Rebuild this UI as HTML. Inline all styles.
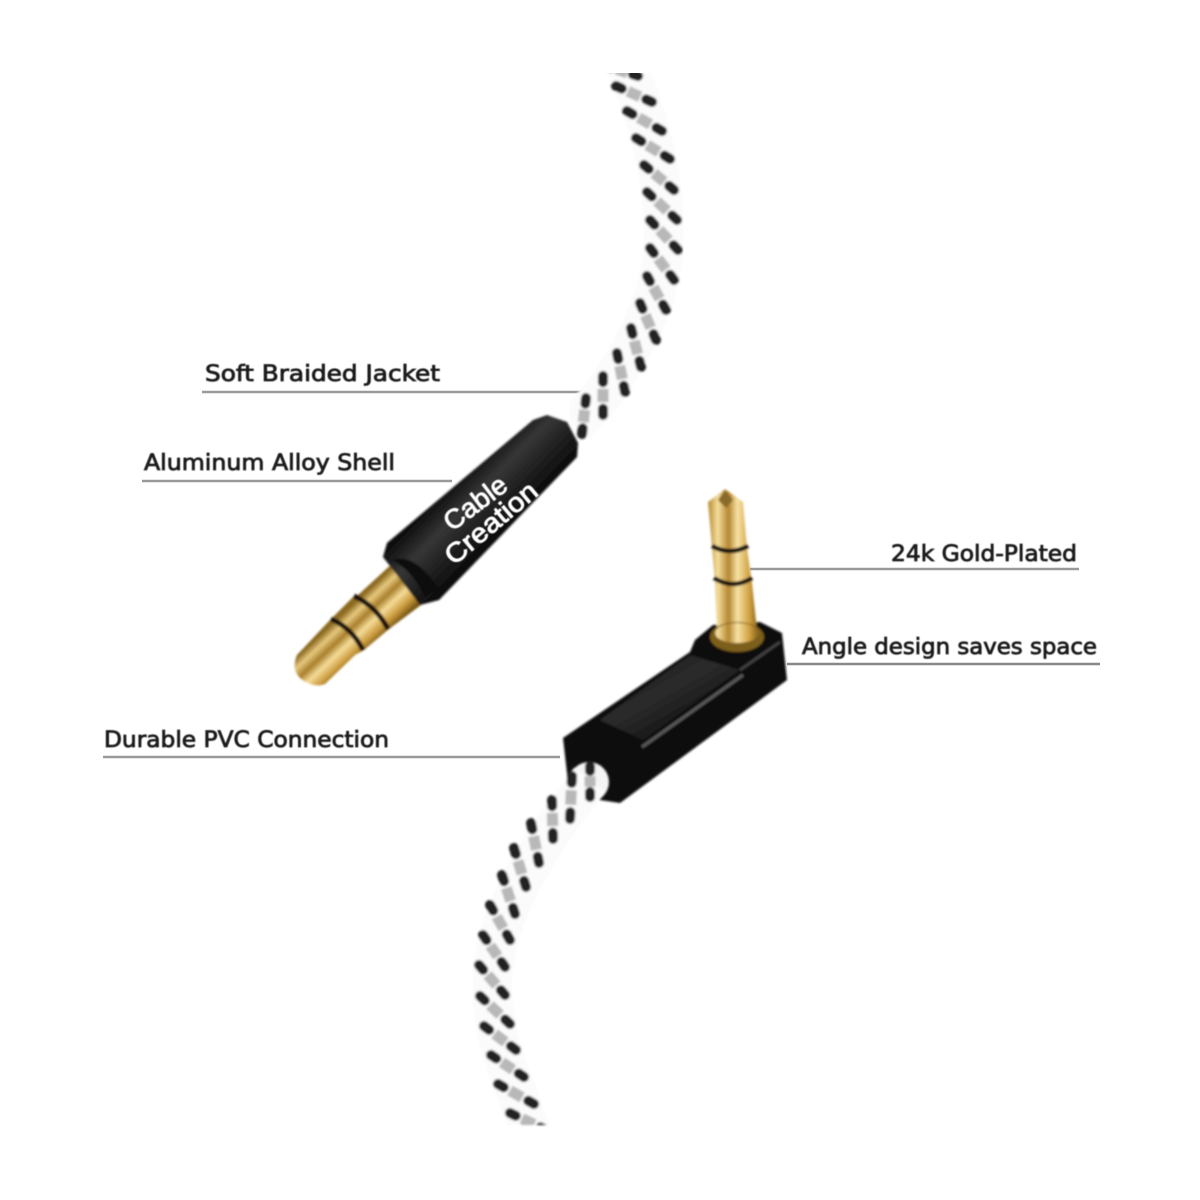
<!DOCTYPE html>
<html><head><meta charset="utf-8"><style>
html,body{margin:0;padding:0;background:#fff}
svg{display:block}
text.l{font-family:"DejaVu Sans","Liberation Sans",sans-serif;font-size:22px;fill:#1c1c1c;stroke:#1c1c1c;stroke-width:.8}
text.b{font-family:"Liberation Sans",sans-serif;font-size:27px;fill:#fff;stroke:#fff;stroke-width:.9}
</style></head><body>
<svg width="1200" height="1200" viewBox="0 0 1200 1200" xmlns="http://www.w3.org/2000/svg">
<defs>
<filter id="b1" x="-5%" y="-5%" width="110%" height="110%"><feGaussianBlur stdDeviation="1"/></filter>
<filter id="b2" x="-5%" y="-20%" width="110%" height="140%"><feGaussianBlur stdDeviation=".5"/></filter>
<clipPath id="cu"><rect x="500" y="73" width="300" height="400"/></clipPath>
<clipPath id="cl"><rect x="400" y="740" width="300" height="385"/></clipPath>
<linearGradient id="g1" gradientUnits="userSpaceOnUse" x1="396" y1="564" x2="426" y2="596">
<stop offset="0" stop-color="#8d6a20"/><stop offset=".18" stop-color="#e6c87e"/><stop offset=".38" stop-color="#a87f2c"/><stop offset=".58" stop-color="#f5dc98"/><stop offset=".82" stop-color="#c9993c"/><stop offset="1" stop-color="#7a5a18"/>
</linearGradient>
<linearGradient id="g2" gradientUnits="userSpaceOnUse" x1="708" y1="0" x2="757" y2="0">
<stop offset="0" stop-color="#b68a30"/><stop offset=".2" stop-color="#f4dd9c"/><stop offset=".42" stop-color="#b58630"/><stop offset=".6" stop-color="#f7e2a4"/><stop offset=".85" stop-color="#cf9f40"/><stop offset="1" stop-color="#8e6a20"/>
</linearGradient>
<linearGradient id="s1" gradientUnits="userSpaceOnUse" x1="460" y1="478" x2="508" y2="525">
<stop offset="0" stop-color="#111"/><stop offset=".35" stop-color="#363636"/><stop offset=".7" stop-color="#1f1f1f"/><stop offset="1" stop-color="#0c0c0c"/>
</linearGradient>
<linearGradient id="s2" gradientUnits="userSpaceOnUse" x1="620" y1="660" x2="660" y2="730">
<stop offset="0" stop-color="#161616"/><stop offset=".6" stop-color="#2c2c2c"/><stop offset="1" stop-color="#1a1a1a"/>
</linearGradient>
<g id="su">
<line x1="606" y1="66" x2="638" y2="76" pathLength="100"/>
<line x1="616" y1="86" x2="652" y2="102" pathLength="100"/>
<line x1="627" y1="111" x2="662" y2="131" pathLength="100"/>
<line x1="636" y1="138" x2="670" y2="159" pathLength="100"/>
<line x1="644" y1="165" x2="674" y2="190" pathLength="100"/>
<line x1="647" y1="192" x2="677" y2="220" pathLength="100"/>
<line x1="650" y1="220" x2="678" y2="250" pathLength="100"/>
<line x1="650" y1="248" x2="674" y2="280" pathLength="100"/>
<line x1="647" y1="276" x2="666" y2="310" pathLength="100"/>
<line x1="640" y1="303" x2="656" y2="340" pathLength="100"/>
<line x1="631" y1="328" x2="641" y2="367" pathLength="100"/>
<line x1="617" y1="353" x2="625" y2="392" pathLength="100"/>
<line x1="603" y1="376" x2="603" y2="415" pathLength="100"/>
<line x1="586" y1="398" x2="582" y2="434" pathLength="100"/>
</g>
<g id="sl">
<line x1="590" y1="766" x2="590" y2="797" pathLength="100"/>
<line x1="572" y1="776" x2="570" y2="819" pathLength="100"/>
<line x1="552" y1="800" x2="553" y2="839" pathLength="100"/>
<line x1="531" y1="823" x2="539" y2="863" pathLength="100"/>
<line x1="514" y1="848" x2="526" y2="887" pathLength="100"/>
<line x1="502" y1="875" x2="515" y2="914" pathLength="100"/>
<line x1="490" y1="905" x2="510" y2="940" pathLength="100"/>
<line x1="483" y1="935" x2="505" y2="967" pathLength="100"/>
<line x1="479" y1="965" x2="505" y2="995" pathLength="100"/>
<line x1="480" y1="996" x2="510" y2="1024" pathLength="100"/>
<line x1="484" y1="1026" x2="516" y2="1050" pathLength="100"/>
<line x1="491" y1="1055" x2="524" y2="1077" pathLength="100"/>
<line x1="498" y1="1084" x2="534" y2="1104" pathLength="100"/>
<line x1="510" y1="1113" x2="546" y2="1130" pathLength="100"/>
</g>
</defs>
<rect width="1200" height="1200" fill="#fff"/>

<!-- leader lines -->
<g fill="none" stroke="#999" stroke-width="2.5">
<path d="M202 392H590"/>
<path d="M142 481H452"/>
<path d="M750 569H1079"/>
<path d="M787 664H1100" stroke="#888"/>
<path d="M103 757H560"/>
</g>

<!-- upper cable -->
<g clip-path="url(#cu)" filter="url(#b1)">
<path d="M626 66C645 110 664 170 664 235C664 290 640 340 603 395L575 425" fill="none" stroke="#fbfbfb" stroke-width="40"/>
<use href="#su" stroke="#b8b8b8" stroke-width="11" stroke-dasharray="0 33 34 33"/>
<use href="#su" stroke="#222" stroke-width="10" stroke-linecap="round" stroke-dasharray="16 68 16"/>
</g>

<!-- upper jack -->
<g filter="url(#b1)">
<path d="M395 561L358 595L353 597L330 620L297 655Q290 672 304 681Q316 688 325 684L355 655L364 650L389 629L429 599L439 590L415 563Z" fill="url(#g1)"/>
<path d="M354 596Q376 606 388 629" stroke="#15100a" stroke-width="5" fill="none"/>
<path d="M331 619Q352 628 363 650" stroke="#15100a" stroke-width="5" fill="none"/>
<path d="M533 420L547 415L567 422L578 443L577 457L439 600L420 605L383 557L387 543Z" fill="url(#s1)"/>
<path d="M392 560Q414 552 438 588L425 597Q412 570 392 560Z" fill="#0c0c0c"/>
</g>
<g filter="url(#b2)">
<text class="b" transform="translate(452 532) rotate(-37)" textLength="72" lengthAdjust="spacingAndGlyphs">Cable</text>
<text class="b" transform="translate(454 566) rotate(-40)" textLength="112" lengthAdjust="spacingAndGlyphs">Creation</text>
</g>

<!-- right-angle jack -->
<g filter="url(#b1)">
<path d="M563 738L690 652L695 640L713 625L760 622L782 633L787 680L620 803L600 800L567 773Z" fill="#111"/>
<path d="M600 720L690 655L740 670L643 740Z" fill="url(#s2)"/>
<path d="M642 747L743 675" stroke="#5a5a5a" stroke-width="3" fill="none"/>
<path d="M740 670L780 642" stroke="#444" stroke-width="2.5" fill="none"/>
<path d="M708 502L725 489L743 502L747 548L752 583L757 630L717 630L715 583L712 548Z" fill="url(#g2)"/>
<path d="M718 500L725 490L733 500L726 508Z" fill="#8a6a2a"/>
<ellipse cx="737" cy="637" rx="27" ry="15" fill="#7d5e1e"/>
<ellipse cx="737" cy="633" rx="22" ry="10" fill="url(#g2)"/>
<path d="M712 546Q730 556 748 546" stroke="#15100a" stroke-width="4.5" fill="none"/>
<path d="M714 578Q733 590 752 578" stroke="#15100a" stroke-width="4.5" fill="none"/>
</g>

<!-- lower cable -->
<g filter="url(#b1)">
<circle cx="589" cy="782" r="20" fill="#f4f4f4"/>
<g clip-path="url(#cl)">
<path d="M590 780C550 830 492 910 492 985C492 1040 515 1085 530 1130" fill="none" stroke="#fbfbfb" stroke-width="40"/>
<use href="#sl" stroke="#b8b8b8" stroke-width="11" stroke-dasharray="0 33 34 33"/>
<use href="#sl" stroke="#222" stroke-width="10" stroke-linecap="round" stroke-dasharray="16 68 16"/>
</g>
</g>

<!-- labels -->
<g filter="url(#b2)">
<text class="l" x="205" y="381" textLength="235" lengthAdjust="spacingAndGlyphs">Soft Braided Jacket</text>
<text class="l" x="144" y="470" textLength="251" lengthAdjust="spacingAndGlyphs">Aluminum Alloy Shell</text>
<text class="l" x="891" y="561" textLength="186" lengthAdjust="spacingAndGlyphs">24k Gold-Plated</text>
<text class="l" x="802" y="654" textLength="295" lengthAdjust="spacingAndGlyphs">Angle design saves space</text>
<text class="l" x="104" y="747" textLength="285" lengthAdjust="spacingAndGlyphs">Durable PVC Connection</text>
</g>
</svg>
</body></html>
